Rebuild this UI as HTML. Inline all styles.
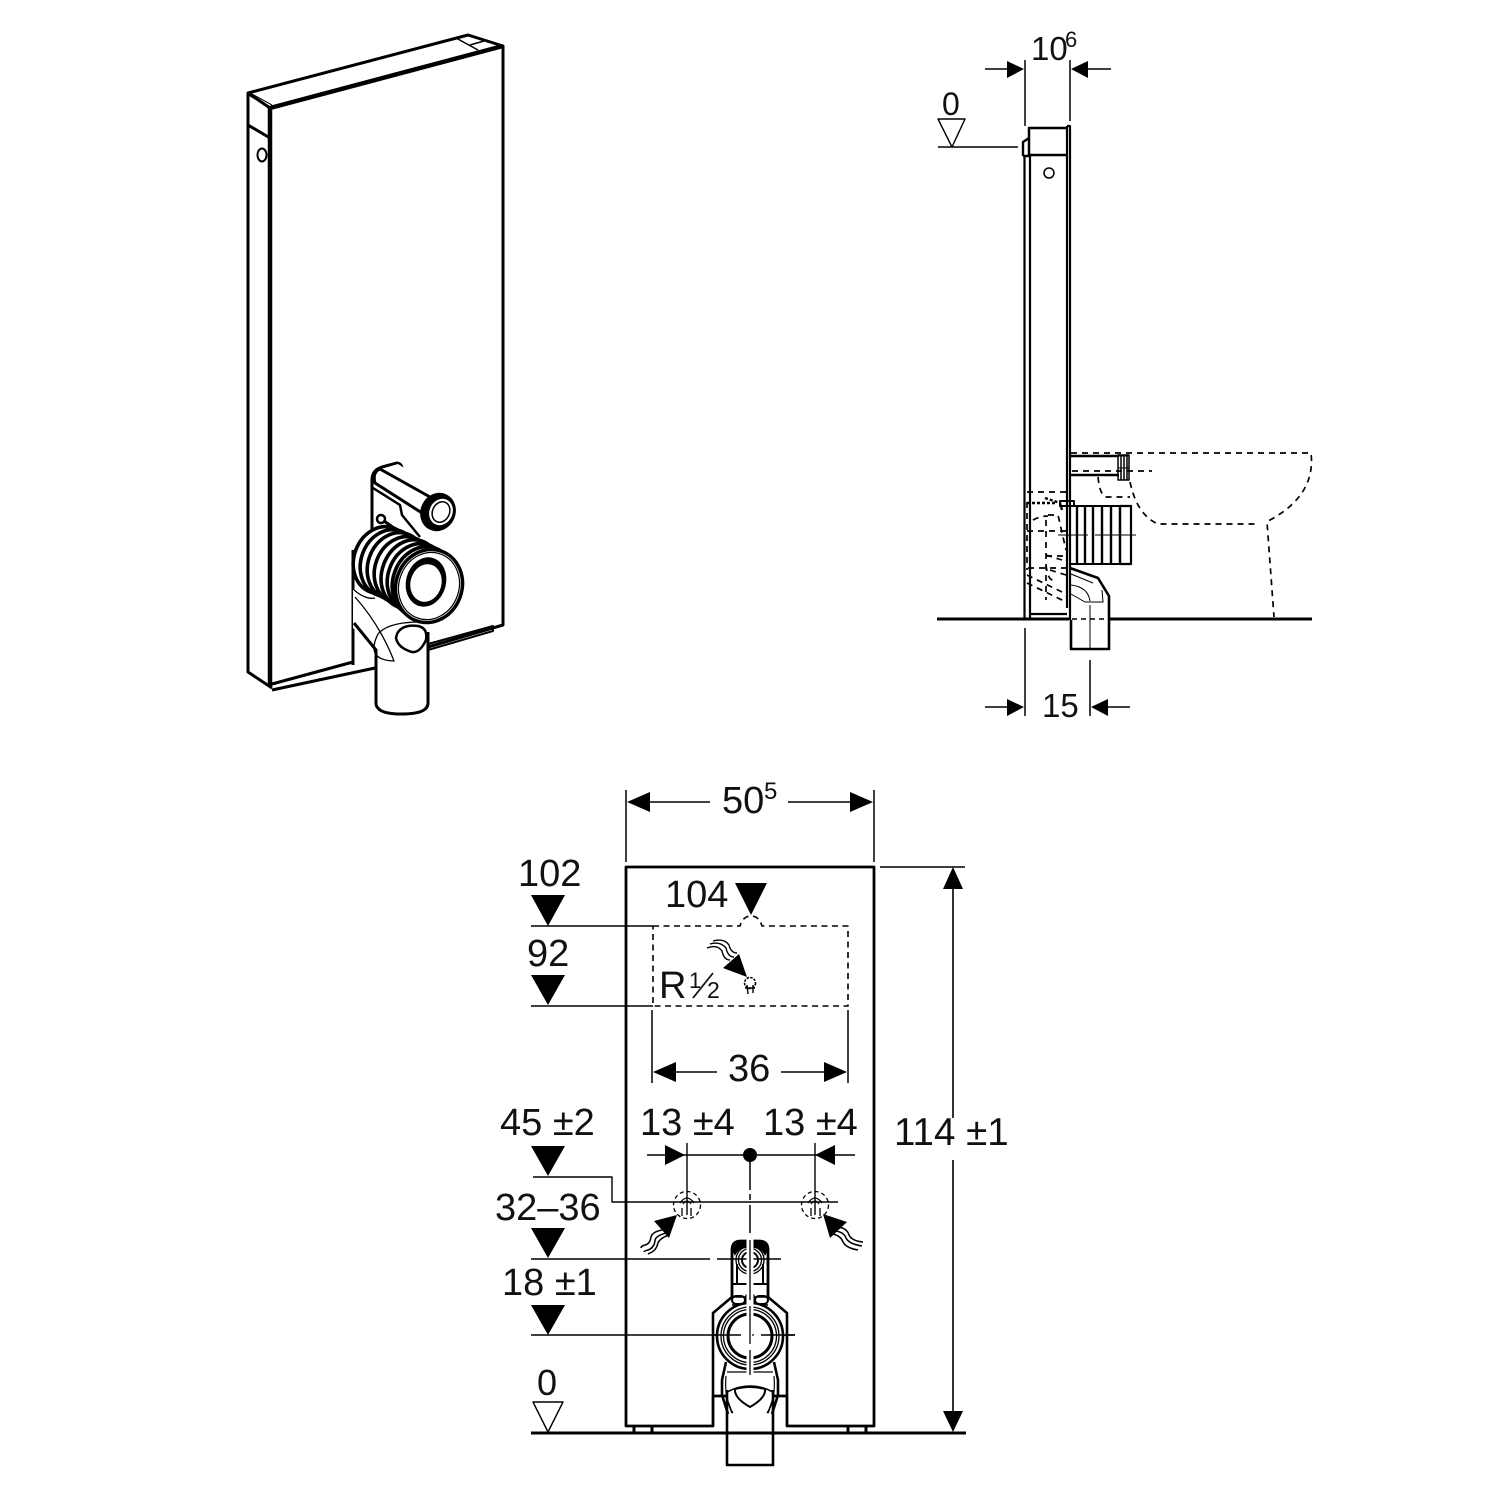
<!DOCTYPE html>
<html><head><meta charset="utf-8"><style>
html,body{margin:0;padding:0;background:#fff}
svg{display:block}
text{font-family:"Liberation Sans",sans-serif;fill:#111}
</style></head><body>
<svg width="1500" height="1500" viewBox="0 0 1500 1500" xmlns="http://www.w3.org/2000/svg" fill="none" stroke="#000" stroke-linejoin="round" stroke-linecap="butt">

<!-- ISO VIEW -->
<g>
<path d="M248,93 L468,35 L503,46 L270,108 Z" stroke-width="3"/>
<path d="M270,108 L503,46" stroke-width="4.5"/>
<path d="M248,93 L248,672 L272,688" stroke-width="3"/>
<path d="M270,108 V686" stroke-width="4.5"/>
<path d="M503,46 V625 L428,647" stroke-width="3"/>
<path d="M250,96 L270,107 M252,94 L272,105" stroke-width="1"/>
<path d="M248,125 L270,138" stroke-width="3"/>
<path d="M456,38 L478,50 M470,45 L484,41" stroke-width="1.5"/>
<ellipse cx="262" cy="155" rx="4.5" ry="6.5" stroke-width="2"/>
<path d="M272,684 L353,662 M272,690 L375,668" stroke-width="3"/>
<path d="M428,644 L493,626 L493,631 L428,650 M477,630 V633" stroke-width="2"/>
<path d="M353,665 V553 L372,530" stroke-width="3"/>

<!-- bracket + stub -->
<path d="M372,530 V480 Q372,470 382,467 L397,463 Q403,464 402,472 L400,478" stroke-width="3" fill="#fff"/>
<path d="M373,488 L400,505 L402,515 L420,537" stroke-width="2.5"/>
<path d="M378,470 Q372,474 375,483 L422,513 L455,500 L398,464 Z" fill="#fff" stroke="none"/>
<path d="M380,469 Q372,472 375,483 L422,513 M380,469 L430,497" stroke-width="3"/>
<ellipse cx="438" cy="512" rx="17" ry="19" transform="rotate(25 438 512)" fill="#000" stroke-width="1"/>
<ellipse cx="441" cy="512" rx="12" ry="14" transform="rotate(25 441 512)" fill="#fff" stroke-width="1"/>
<ellipse cx="441" cy="512" rx="8.5" ry="10.5" transform="rotate(25 441 512)" stroke-width="1.5"/>
<circle cx="381" cy="519" r="4" stroke-width="2.5" fill="#fff"/>
<path d="M384,521 L394,528" stroke-width="3"/>

<!-- lower elbow -->
<path d="M353,585 L353,628 L377,650 V703 Q376,713 400,714 Q428,714 428,703 V630 L424,622 L380,600 Z" fill="#fff" stroke="none"/>
<path d="M354,623 L376,650 V703 Q376,714 402,714 Q428,714 428,703 V632" stroke-width="3"/>
<path d="M354,590 Q366,600 375,598 M355,597 Q380,625 394,661 Q365,660 378,634 Q388,622 420,622" stroke-width="1.3"/>
<path d="M397,634 Q402,624 418,626 Q428,628 426,640 Q420,653 412,652 Q398,648 396,638 Z" stroke-width="2.5" fill="#fff"/>

<!-- corrugated -->
<path d="M353,553 L362,528 L420,550 L440,620 L395,600 L355,585 Z" fill="#fff" stroke="none"/>
<path d="M353,550 V590" stroke-width="3"/>
<g fill="#fff" stroke-width="3.6">
<ellipse cx="382" cy="560" rx="28" ry="34" transform="rotate(20 382 560)"/>
<ellipse cx="389" cy="563" rx="28" ry="34" transform="rotate(20 389 563)"/>
<ellipse cx="396" cy="566" rx="28" ry="34" transform="rotate(20 396 566)"/>
<ellipse cx="403" cy="570" rx="28" ry="34" transform="rotate(20 403 570)"/>
<ellipse cx="410" cy="574" rx="28" ry="35" transform="rotate(20 410 574)"/>
<ellipse cx="417" cy="578" rx="29" ry="35" transform="rotate(20 417 578)"/>
<ellipse cx="423" cy="582" rx="30" ry="36" transform="rotate(20 423 582)"/>
</g>
<ellipse cx="429" cy="586" rx="33" ry="37" transform="rotate(20 429 586)" fill="#fff" stroke-width="3.5"/>
<ellipse cx="429" cy="586" rx="30" ry="34" transform="rotate(20 429 586)" stroke-width="1.2"/>
<ellipse cx="426" cy="582" rx="20" ry="25" transform="rotate(15 426 582)" fill="#000" stroke="none"/>
<ellipse cx="426" cy="583" rx="15.5" ry="19" transform="rotate(15 426 583)" fill="#fff" stroke="none"/>
</g>

<!-- SIDE VIEW -->
<g>
<path d="M1025,60 V126 M1070,60 V121" stroke-width="1.5"/>
<path d="M985,69 H1007 M1088,69 H1111" stroke-width="1.6"/>
<path d="M1007,61 L1024,69 L1007,78 Z M1088,61 L1071,69 L1088,78 Z" fill="#000" stroke="none"/>
<path d="M938,119 H965 L952,147 Z M938,147 H1018" stroke-width="1.4"/>
<path d="M1029,156 V128 H1066 M1029,155 H1067" stroke-width="2.5"/>
<path d="M1067,126 H1070 V620" stroke-width="2.2"/>
<path d="M1067,126 V608" stroke-width="2.2"/>
<path d="M1023,156 V142 L1029,138 M1023,156 H1029" stroke-width="2.4"/>
<path d="M1024.5,156 V619 M1030,156 V614 H1067 M1030,614 V619" stroke-width="2.2"/>
<circle cx="1049" cy="173" r="5" stroke-width="1.5"/>
<path d="M937,619 H1069 M1110,619 H1312" stroke-width="3"/>
<path d="M1072,619 H1108" stroke-width="1.5" stroke-dasharray="5 4"/>

<!-- wc dashed -->
<g stroke-width="1.7" stroke-dasharray="6 5" stroke-linecap="butt">
<path d="M1071,453 H1311 Q1316,495 1270,520 L1267,522 L1274,617"/>
<path d="M1130,482 Q1137,515 1158,524 H1256"/>
<path d="M1098,477 Q1100,497 1107,497 H1130"/>
<path d="M1072,471 H1152"/>
<path d="M1027,492 H1068 M1027,531 H1068"/>
<path d="M1027,502 V570 M1027,583 L1064,601 M1028,568 H1068 M1027,575 L1062,592"/>
<path d="M1033,520 Q1040,516 1048,516 M1046,520 V600 M1048,515 H1058 L1066,550 M1046,555 L1062,560 M1046,565 Q1048,582 1055,580"/>
<path d="M1046,556 H1066 M1050,570 L1066,575"/>
</g>
<path d="M1027,503 H1056 M1045,498 L1060,503 L1062,510" stroke-width="2.4" stroke-dasharray="3 2"/>
<rect x="1060" y="501" width="14" height="5" stroke-width="2"/>

<!-- stub -->
<path d="M1071,456 H1119 M1071,475 H1119" stroke-width="2.4"/>
<rect x="1118" y="455" width="11" height="25" stroke-width="1.5"/>
<path d="M1121,455 V480 M1124,455 V480 M1127,455 V480" stroke-width="1.5"/>
<path d="M1118,456 H1129 M1118,468 H1129" stroke-width="1"/>

<!-- corrugation -->
<path d="M1070,506 H1120 M1070,564 H1120" stroke-width="2"/>
<path d="M1120,506 H1131 V564 H1120 Z" stroke-width="2.2"/>
<path d="M1077,506 V564 M1085,506 V564 M1093,506 V564 M1102,506 V564 M1111,506 V564 M1120,506 V564" stroke-width="2.4"/>
<path d="M1058,535 H1088 M1095,535 H1136" stroke-width="1"/>

<!-- elbow -->
<path d="M1070,568 L1098,578 L1109,596 V649 H1071 V620" stroke-width="2.6"/>
<path d="M1071,574 L1093,583 M1071,585 Q1088,587 1090,601 M1071,594 L1085,602 H1103 L1102,590" stroke-width="1"/>
<path d="M1090,605 V648" stroke-width="1"/>
<path d="M1090,660 V716 M1025,628 V716" stroke-width="1.5"/>
<path d="M985,707 H1007 M1108,707 H1130" stroke-width="1.6"/>
<path d="M1007,699 L1024,707 L1007,716 Z M1108,699 L1091,707 L1108,716 Z" fill="#000" stroke="none"/>
</g>

<!-- FRONT VIEW -->
<g>
<path d="M626,790 V862 M874,790 V862" stroke-width="1.5"/>
<path d="M650,802 H710 M788,802 H850" stroke-width="1.6"/>
<path d="M627,802 L650,792 V812 Z M873,802 L850,792 V812 Z" fill="#000" stroke="none"/>
<path d="M713,1396 V1426 H626 V867 H874 V1426 H787 V1396 M713,1396 H726 M774,1396 H787" stroke-width="2.8"/>
<path d="M634,1426 V1433 M652,1426 V1433 M848,1426 V1433 M866,1426 V1433" stroke-width="3"/>
<path d="M531,1433 H966" stroke-width="3"/>
<path d="M880,867 H965" stroke-width="1.5"/>
<path d="M953,889 V1118 M953,1160 V1412" stroke-width="1.6"/>
<path d="M953,867 L943,889 H963 Z M953,1432 L943,1411 H963 Z" fill="#000" stroke="none"/>

<!-- left triangles -->
<path d="M531,895 H565 L548,926 Z M531,975 H565 L548,1005 Z M735,883 H767 L751,915 Z M531,1146 H565 L548,1176 Z M531,1228 H565 L548,1258 Z M531,1305 H565 L548,1335 Z" fill="#000" stroke="none"/>
<path d="M533,1402 H563 L548,1432 Z" stroke-width="1.4"/>
<path d="M531,926 H653 M531,1006 H653" stroke-width="1.5"/>
<path d="M533,1177 H612 V1202 H838" stroke-width="1.4"/>
<path d="M531,1259 H710 M717,1259 H781" stroke-width="1.5"/>
<path d="M531,1335 H741 M761,1335 H795" stroke-width="1.5"/>

<!-- dashed box -->
<path d="M653,926 H740 Q743,916 751,916 Q759,916 762,926 H848 V1006 H653 Z" stroke-width="1.6" stroke-dasharray="6 4.5"/>
<path d="M652,1010 V1083 M848,1010 V1083" stroke-width="1.5"/>
<path d="M676,1072 H717 M781,1072 H824" stroke-width="1.6"/>
<path d="M653,1072 L676,1062 V1082 Z M847,1072 L824,1062 V1082 Z" fill="#000" stroke="none"/>

<!-- r1/2 arrow -->
<path d="M723,968 L739,954 L747,977 Z" fill="#000" stroke="none"/>
<path d="M707,948 Q717,944 722,951 Q724,960 730,960 M710,944 Q720,941 726,948 Q728,957 734,957 M713,941 Q724,938 729,945 Q731,953 737,953" stroke-width="1.4"/>
<circle cx="750" cy="983" r="5.5" stroke-width="1.6" stroke-dasharray="2.5 1.2"/>
<path d="M747,985 L748,994 M753,985 V993 M745,988 H755" stroke-width="1.4"/>

<!-- 13 +-4 -->
<path d="M647,1155 H855" stroke-width="1.5"/>
<path d="M685,1155 L665,1145 V1165 Z M815,1155 L835,1145 V1165 Z" fill="#000" stroke="none"/>
<circle cx="750" cy="1155" r="7" fill="#000" stroke="none"/>
<path d="M687,1143 V1215 M815,1143 V1215" stroke-width="1.4"/>
<path d="M750,1160 V1190 M750,1194 V1200 M750,1205 V1233" stroke-width="1.5"/>
<g stroke-width="1.3">
<circle cx="687" cy="1205" r="13.5" stroke-dasharray="4 3"/>
<circle cx="815" cy="1205" r="13.5" stroke-dasharray="4 3"/>
<path d="M680,1203 Q687,1193 694,1203 M683,1204 Q687,1198 691,1204 M682,1208 V1216 M691,1208 V1216 M808,1203 Q815,1193 822,1203 M811,1204 Q815,1198 819,1204 M811,1208 V1216 M820,1208 V1216"/>
</g>
<path d="M677,1215 L654,1221 L669,1238 Z M823,1214 L847,1222 L830,1238 Z" fill="#000" stroke="none"/>
<path d="M662,1230 Q652,1232 651,1237 Q650,1244 645,1245 Q641,1246 641,1248 M666,1233 Q655,1236 655,1241 Q654,1248 648,1250 Q644,1251 644,1252 M669,1235 Q660,1238 658,1243 Q656,1251 650,1253 Q648,1254 648,1254" stroke-width="1.5"/>
<path d="M838,1227 Q847,1228 849,1235 Q852,1241 863,1242 M835,1231 Q844,1232 846,1238 Q849,1244 862,1246 M833,1234 Q841,1236 843,1242 Q846,1248 858,1250" stroke-width="1.5"/>

<!-- drain -->
<path d="M727,1390 V1465 H773 V1390" stroke-width="2.6"/>
<path d="M728,1414 L722,1395 L722,1380 L726,1362 M772,1414 L778,1395 L778,1380 L774,1362" stroke-width="2.6"/>
<path d="M727,1372 H773 M726,1376 Q724,1400 733,1413 M774,1376 Q776,1400 767,1413" stroke-width="1.2"/>
<path d="M727,1392 Q750,1380 773,1392 L774,1396 L768,1413 M727,1392 L726,1396 L732,1413" stroke-width="1.6"/>
<path d="M735,1389 Q750,1385 765,1389 Q766,1398 750,1407 Q734,1398 735,1389 Z" stroke-width="2"/>
<path d="M713,1396 V1313 L732,1297 M787,1396 V1313 L768,1297" stroke-width="2.6"/>
<path d="M732,1297 V1250 Q732,1241 741,1241 H759 Q768,1241 768,1250 V1297" stroke-width="2.8"/>
<path d="M733,1252 Q733,1242 741,1242 H748 V1248 Q738,1248 735,1256 Z M767,1252 Q767,1242 759,1242 H752 V1248 Q762,1248 765,1256 Z" fill="#000" stroke="none"/>
<circle cx="750" cy="1260" r="14" stroke-width="1.3"/>
<circle cx="750" cy="1260" r="11.5" stroke-width="1.3"/>
<circle cx="750" cy="1260" r="8" stroke-width="2"/>
<path d="M737,1264 V1284 M763,1264 V1284 M732,1284 H768" stroke-width="2"/>
<path d="M732,1297 H768 M732,1305 H768" stroke-width="1.6"/>
<rect x="732" y="1296" width="13" height="8" rx="4" stroke-width="2"/>
<rect x="755" y="1296" width="13" height="8" rx="4" stroke-width="2"/>
<rect x="746" y="1294" width="8" height="12" rx="3" stroke-width="2"/>
<circle cx="750" cy="1336" r="33" fill="#fff" stroke-width="2.6"/>
<circle cx="750" cy="1336" r="29" stroke-width="1.3"/>
<circle cx="750" cy="1336" r="26.5" stroke-width="1.3"/>
<circle cx="750" cy="1336" r="22" stroke-width="3"/>
<path d="M750,1238 V1375" stroke="#fff" stroke-width="7"/>
<path d="M713,1335 H741 M761,1335 H795" stroke-width="1.5"/>
<path d="M750,1240 V1300 M750,1306 V1344 M750,1350 V1375" stroke-width="1.6" stroke="#333"/>
<path d="M752,1335 H754" stroke-width="1.2"/>
</g>

<!-- LABELS -->
<g stroke="none">
<text x="1031" y="60" font-size="33">10</text>
<text x="1065" y="47" font-size="22">6</text>
<text x="942" y="115" font-size="32">0</text>
<text x="1042" y="717" font-size="33">15</text>
<text x="722" y="813" font-size="38">50</text>
<text x="764" y="799" font-size="24">5</text>
<text x="518" y="886" font-size="38">102</text>
<text x="665" y="907" font-size="38">104</text>
<text x="527" y="966" font-size="38">92</text>
<text x="659" y="998" font-size="38">R</text>
<text x="689" y="988" font-size="22">1</text>
<path d="M693,998 L713,973" stroke="#111" stroke-width="1.8" fill="none"/>
<text x="707" y="998" font-size="23">2</text>
<text x="728" y="1081" font-size="38">36</text>
<text x="640" y="1135" font-size="38" xml:space="preserve">13 ±4</text>
<text x="763" y="1135" font-size="38" xml:space="preserve">13 ±4</text>
<text x="500" y="1135" font-size="38" xml:space="preserve">45 ±2</text>
<text x="495" y="1220" font-size="38">32–36</text>
<text x="502" y="1295" font-size="38" xml:space="preserve">18 ±1</text>
<text x="537" y="1395" font-size="36">0</text>
<text x="894" y="1145" font-size="38.5" xml:space="preserve">114 ±1</text>
</g>
</svg>
</body></html>
